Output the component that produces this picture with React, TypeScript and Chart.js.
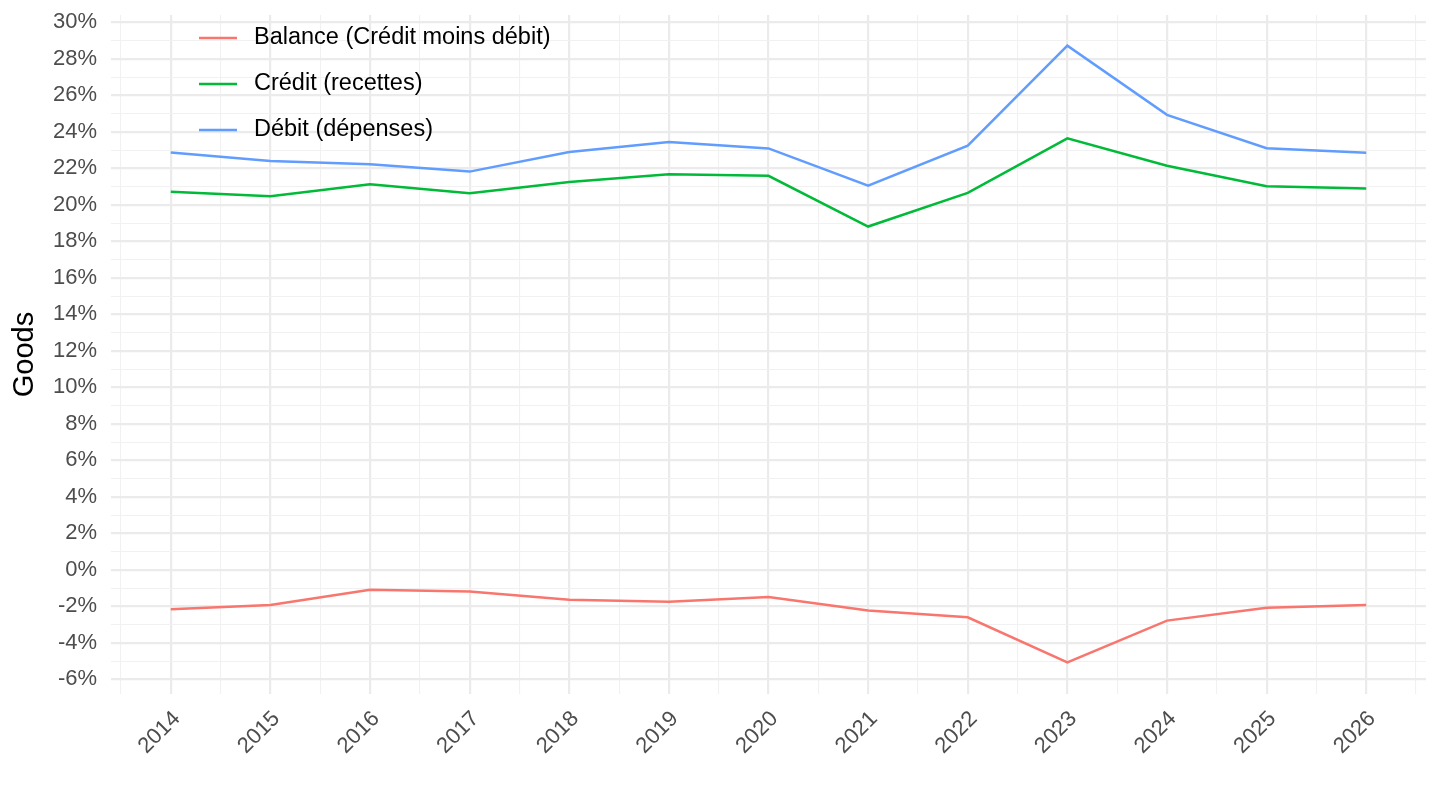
import { useEffect, useRef } from 'react';
import { Chart, registerables, type ChartConfiguration, type Plugin } from 'chart.js';

Chart.register(...registerables);

const FONT = '"Liberation Sans", Arial, Helvetica, sans-serif';

const YEARS = [2014, 2015, 2016, 2017, 2018, 2019, 2020, 2021, 2022, 2023, 2024, 2025, 2026];

// Share of GDP, in %
const BALANCE = [-2.16, -1.93, -1.09, -1.18, -1.64, -1.75, -1.49, -2.22, -2.6, -5.07, -2.78, -2.08, -1.93];
const CREDIT = [20.71, 20.47, 21.13, 20.64, 21.25, 21.67, 21.59, 18.81, 20.65, 23.64, 22.14, 21.02, 20.9];
const DEBIT = [22.87, 22.4, 22.22, 21.82, 22.89, 23.44, 23.09, 21.05, 23.24, 28.72, 24.93, 23.1, 22.85];

const SERIES_LABELS = ['Balance (Crédit moins débit)', 'Crédit (recettes)', 'Débit (dépenses)'];
const SERIES_COLORS = ['#F8766D', '#00BA38', '#619CFF'];
const SERIES_VALUES = [BALANCE, CREDIT, DEBIT];

const Y_MIN = -6.8;
const Y_MAX = 30.4;
const X_MIN = 2013.4;
const X_MAX = 2026.6;

const GRID_MAJOR = '#ebebeb';
const GRID_MINOR = '#f1f1f1';

// ggplot-style legend drawn inside the panel, top-left
const insideLegend: Plugin<'line'> = {
  id: 'insideLegend',
  afterDatasetsDraw(chart) {
    const { ctx } = chart;
    ctx.save();
    ctx.font = `23.5px ${FONT}`;
    ctx.textBaseline = 'middle';
    ctx.textAlign = 'left';
    chart.data.datasets.forEach((ds, i) => {
      const y = 38 + i * 46;
      ctx.strokeStyle = ds.borderColor as string;
      ctx.lineWidth = 2.5;
      ctx.beginPath();
      ctx.moveTo(199, y);
      ctx.lineTo(237, y);
      ctx.stroke();
      ctx.fillStyle = '#000000';
      ctx.fillText(String(ds.label), 254, y);
    });
    ctx.restore();
  },
};

export default function App() {
  const canvasRef = useRef<HTMLCanvasElement | null>(null);

  useEffect(() => {
    document.body.style.margin = '0';
    const canvas = canvasRef.current;
    if (!canvas) return;

    const config: ChartConfiguration<'line'> = {
      type: 'line',
      data: {
        datasets: SERIES_VALUES.map((values, i) => ({
          label: SERIES_LABELS[i],
          data: values.map((v, j) => ({ x: YEARS[j], y: v })),
          borderColor: SERIES_COLORS[i],
          backgroundColor: SERIES_COLORS[i],
          borderWidth: 2.5,
          pointRadius: 0,
          tension: 0,
        })),
      },
      options: {
        animation: false,
        responsive: true,
        maintainAspectRatio: false,
        layout: { padding: { top: 15, right: 14, left: 0, bottom: 0 } },
        plugins: {
          legend: { display: false },
          tooltip: { enabled: false },
        },
        scales: {
          x: {
            type: 'linear',
            min: X_MIN,
            max: X_MAX,
            afterBuildTicks: (scale) => {
              const ticks = [];
              for (let v = YEARS[0] - 0.5; v <= YEARS[YEARS.length - 1] + 0.5; v += 0.5) {
                ticks.push({ value: v });
              }
              scale.ticks = ticks;
            },
            afterFit: (scale) => {
              scale.height = 116;
              scale.paddingLeft = 0;
              scale.paddingRight = 0;
            },
            border: { display: false },
            grid: {
              drawTicks: false,
              color: (ctx) => (Number.isInteger(ctx.tick?.value) ? GRID_MAJOR : GRID_MINOR),
              lineWidth: (ctx) => (Number.isInteger(ctx.tick?.value) ? 2.2 : 1.1),
            },
            ticks: {
              autoSkip: false,
              maxRotation: 45,
              minRotation: 45,
              padding: 12,
              labelOffset: 6,
              color: '#4d4d4d',
              font: { family: FONT, size: 22 },
              callback: (value) => (Number.isInteger(Number(value)) ? String(value) : ''),
            },
          },
          y: {
            type: 'linear',
            min: Y_MIN,
            max: Y_MAX,
            afterBuildTicks: (scale) => {
              const ticks = [];
              for (let v = -6; v <= 30; v += 1) ticks.push({ value: v });
              scale.ticks = ticks;
            },
            afterFit: (scale) => {
              scale.width = 111;
              scale.paddingTop = 0;
              scale.paddingBottom = 0;
            },
            border: { display: false },
            grid: {
              drawTicks: false,
              color: (ctx) => (Number(ctx.tick?.value) % 2 === 0 ? GRID_MAJOR : GRID_MINOR),
              lineWidth: (ctx) => (Number(ctx.tick?.value) % 2 === 0 ? 2.2 : 1.1),
            },
            ticks: {
              autoSkip: false,
              padding: 14,
              color: '#4d4d4d',
              font: { family: FONT, size: 22 },
              callback: (value) => (Number(value) % 2 === 0 ? `${value}%` : ''),
            },
            title: {
              display: true,
              text: 'Goods',
              color: '#000000',
              font: { family: FONT, size: 29 },
              padding: { top: 8, bottom: 0 },
            },
          },
        },
      },
      plugins: [insideLegend],
    };

    const chart = new Chart(canvas, config);
    return () => chart.destroy();
  }, []);

  return (
    <div style={{ position: 'relative', width: 1440, height: 810, background: '#ffffff' }}>
      <canvas ref={canvasRef} role='img' aria-label='Goods: balance, crédit et débit' />
    </div>
  );
}
